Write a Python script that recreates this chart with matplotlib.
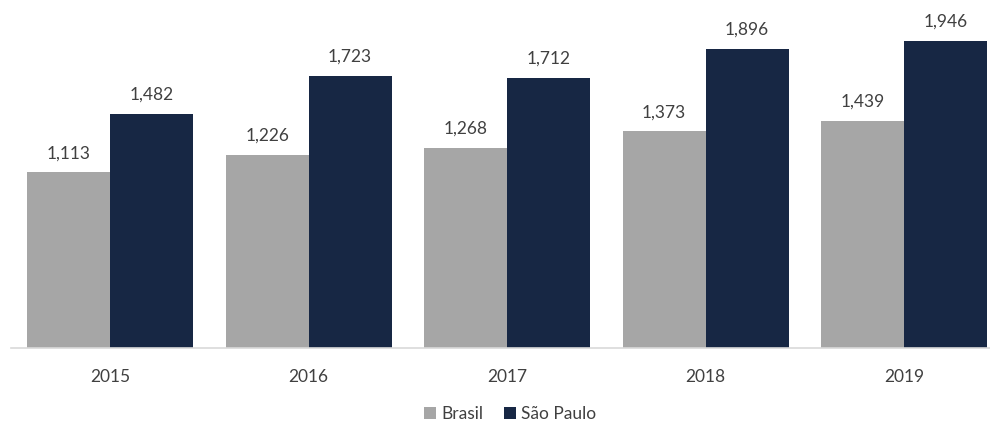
import matplotlib
matplotlib.use("Agg")
import matplotlib.pyplot as plt
import numpy as np

years = ["2015", "2016", "2017", "2018", "2019"]
brasil = [1113, 1226, 1268, 1373, 1439]
sao_paulo = [1482, 1723, 1712, 1896, 1946]

plt.rcParams['font.family'] = ['Lato', 'DejaVu Sans']
fig = plt.figure(figsize=(9.9, 4.26), dpi=100)
ax = fig.add_axes([11/990, 78/426, 979/990, 348/426])

x = np.arange(len(years))
w = 0.418
c1, c2 = '#a6a6a6', '#172744'
b1 = ax.bar(x - w/2, brasil, w, color=c1, label='Brasil')
b2 = ax.bar(x + w/2, sao_paulo, w, color=c2, label='São Paulo')
for bars, vals in ((b1, brasil), (b2, sao_paulo)):
    for r, v in zip(bars, vals):
        ax.text(r.get_x() + r.get_width()/2, v + 70, f"{v:,}", ha='center', va='bottom',
                fontsize=12.5, color='#404040')

ax.set_xlim(-0.5, (990-110)/198.5)
ax.set_ylim(0, 2205)
ax.set_xticks(x)
ax.set_xticklabels(years, fontsize=12.5, color='#404040')
ax.tick_params(axis='x', length=0, pad=15)
ax.set_yticks([])
for s in ['top', 'right', 'left']:
    ax.spines[s].set_visible(False)
ax.spines['bottom'].set_color('#d9d9d9')
ax.spines['bottom'].set_linewidth(1.2)

leg = fig.legend(handles=[b1, b2], labels=['Brasil', 'São Paulo'], loc='center',
                 bbox_to_anchor=(510/990, 1 - 414/426), ncol=2, frameon=False,
                 fontsize=12.5, handlelength=0.7, handleheight=0.7, handletextpad=0.3,
                 columnspacing=1.2)
for t in leg.get_texts():
    t.set_color('#404040')

fig.savefig('out.png', dpi=100)
